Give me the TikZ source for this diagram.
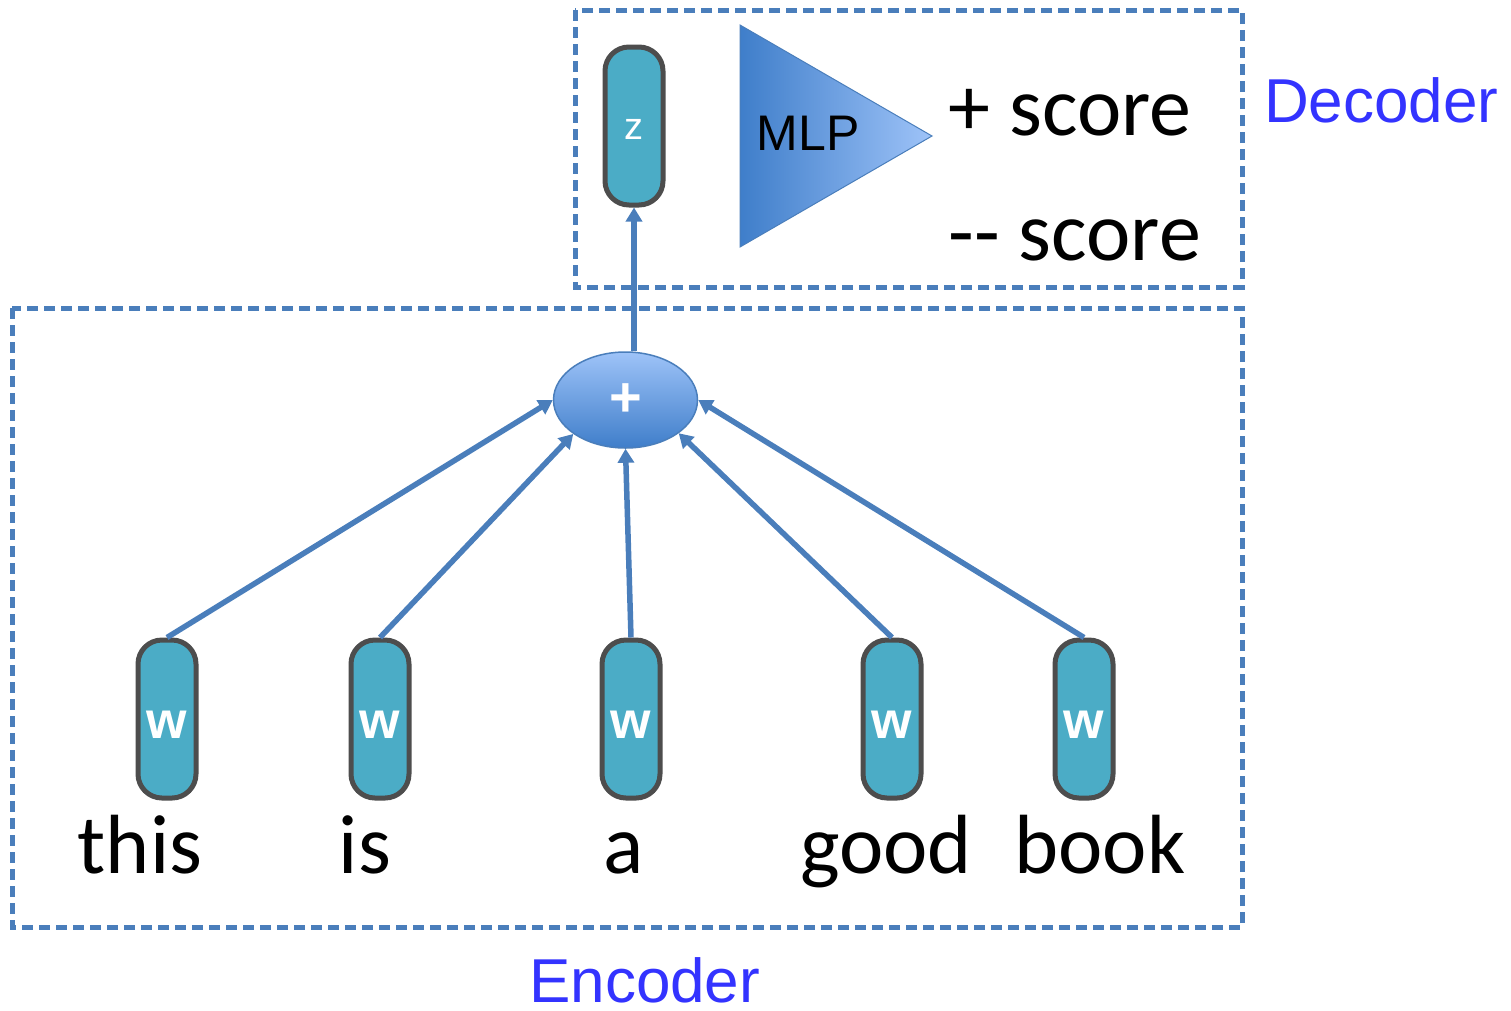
\documentclass[tikz,border=0pt]{standalone}
\usepackage{fontspec}
\setmainfont{Carlito}
\newfontfamily\arialfont{Liberation Sans}
\usetikzlibrary{arrows.meta,shapes.geometric}
\definecolor{boxblue}{HTML}{4A7EBB}
\definecolor{cellfill}{HTML}{4BACC6}
\definecolor{cellline}{HTML}{4D4D4D}
\definecolor{labelblue}{HTML}{3333FF}
\definecolor{gradlight}{HTML}{9EC3F8}
\definecolor{graddark}{HTML}{3F7ECA}
\tikzset{
  region/.style={draw=boxblue, line width=5pt, dash pattern=on 11pt off 6pt},
  cell/.style={rectangle, rounded corners=24pt, draw=cellline, line width=5pt,
    fill=cellfill, minimum width=58pt, minimum height=158pt, inner sep=0pt,
    text=white},
  wordtxt/.style={font=\fontsize{84}{84}\selectfont, anchor=base},
  scoretxt/.style={font=\fontsize{84}{84}\selectfont, anchor=base west},
  partlabel/.style={font=\arialfont\fontsize{62}{62}\selectfont, text=labelblue,
    anchor=base west, text depth=0pt, inner sep=0pt},
  arr/.style={draw=boxblue, line width=5.5pt, -{Triangle[length=14pt,width=16pt]}},
}
\begin{document}
\begin{tikzpicture}[x=1pt, y=-1pt]
\useasboundingbox (0,0) rectangle (1511,1010);

% dashed region frames
\draw[region] (575,10) rectangle (1242,287);
\draw[region] (12,308) rectangle (1242,927);

% decoder: latent vector and MLP
\node[cell, font=\arialfont\fontsize{38}{38}\selectfont, text height=26pt, text depth=0pt] (z) at (634,126) {z};
\shade[left color=graddark, right color=gradlight, draw=boxblue, line width=1pt]
  (740,25) -- (932,136) -- (740,247) -- cycle;
\node[font=\arialfont\fontsize{50}{50}\selectfont, anchor=base] (mlp) at (808,150) {MLP};
\node[scoretxt] (pos) at (945,135) {+ score};
\node[scoretxt] (neg) at (945,260) {-{}- score};
\node[partlabel] (dec) at (1264,122) {Decoder};

% encoder: summation node
\node[ellipse, minimum width=144pt, minimum height=96pt, inner sep=0pt,
  top color=gradlight, bottom color=graddark, draw=boxblue, line width=1.5pt,
  text=white, font=\arialfont\bfseries\fontsize{56}{56}\selectfont] (plus) at (625.5,400) {+};

% word vectors
\foreach \i/\x in {1/167,2/380,3/631,4/892,5/1084}
  \node[cell, font=\arialfont\bfseries\fontsize{52}{52}\selectfont,
    text height=39pt, text depth=0pt] (w\i) at (\x,719) {w};

% words
\node[wordtxt] (t1) at (140,873) {this};
\node[wordtxt] (t2) at (365,873) {is};
\node[wordtxt] (t3) at (624,873) {a};
\node[wordtxt] (t4) at (886,873) {good};
\node[wordtxt] (t5) at (1100,873) {book};

\node[partlabel] (enc) at (529,1002) {Encoder};

% connectors
\draw[arr] (w1.north) -- (plus.west);
\draw[arr] (w2.north) -- (plus.213);
\draw[arr] (w3.north) -- (plus.south);
\draw[arr] (w4.north) -- (plus.-32);
\draw[arr] (w5.north) -- (plus.east);
\draw[arr] (plus.north -| z.south) -- (z.south);
\end{tikzpicture}
\end{document}
